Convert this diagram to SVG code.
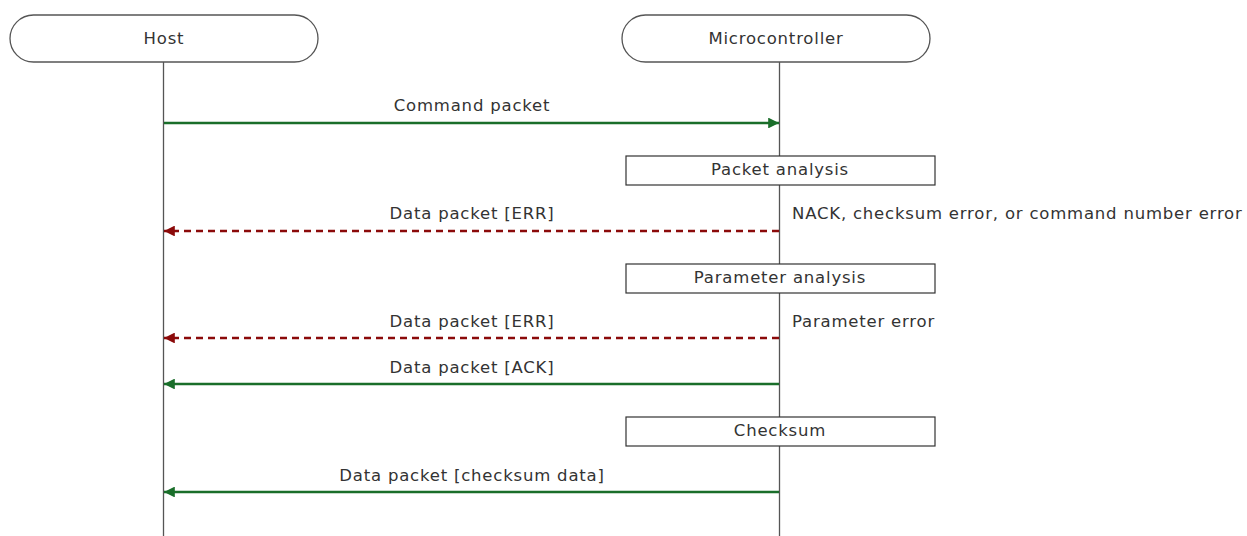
<svg xmlns="http://www.w3.org/2000/svg" width="1247" height="536" viewBox="0 0 1247 536">
<style>
text{font-family:"DejaVu Sans","Liberation Sans",sans-serif;font-size:16.5px;letter-spacing:0.8px;fill:#333}
.mid{text-anchor:middle}
.actor{fill:#fff;stroke:#555;stroke-width:1.3}
.box{fill:#fff;stroke:#333;stroke-width:1.2}
.life{stroke:#555;stroke-width:1.3}
.ok{stroke:#1a6e2a;stroke-width:2.4;fill:none}
.err{stroke:#8b0a0a;stroke-width:2.4;fill:none;stroke-dasharray:7,5}
</style>
<defs>
<marker id="ag" viewBox="0 0 10 10" refX="10" refY="5" markerWidth="4.5" markerHeight="4.5" orient="auto" markerUnits="strokeWidth"><path d="M0,0L10,5L0,10z" fill="#1a6e2a"/></marker>
<marker id="ar" viewBox="0 0 10 10" refX="10" refY="5" markerWidth="4.5" markerHeight="4.5" orient="auto" markerUnits="strokeWidth"><path d="M0,0L10,5L0,10z" fill="#8b0a0a"/></marker>
</defs>
<g id="lifelines">
<line class="life" x1="163.5" y1="62" x2="163.5" y2="536"/>
<line class="life" x1="779.5" y1="62" x2="779.5" y2="536"/>
</g>
<g id="host"><rect class="actor" x="10" y="15" width="308" height="47" rx="23.5"/><text class="mid" x="164" y="44">Host</text></g>
<g id="mcu"><rect class="actor" x="622" y="15" width="308" height="47" rx="23.5"/><text class="mid" x="776" y="44">Microcontroller</text></g>
<g id="packet-analysis"><rect class="box" x="626" y="156" width="309" height="29"/><text class="mid" x="780" y="175">Packet analysis</text></g>
<g id="parameter-analysis"><rect class="box" x="626" y="264" width="309" height="29"/><text class="mid" x="780" y="283">Parameter analysis</text></g>
<g id="checksum"><rect class="box" x="626" y="417" width="309" height="29"/><text class="mid" x="780" y="436">Checksum</text></g>
<g id="connectors">
<line class="ok" x1="164" y1="123" x2="779" y2="123" marker-end="url(#ag)"/>
<text class="mid" x="472" y="111">Command packet</text>
<line class="err" x1="779" y1="231" x2="164" y2="231" marker-end="url(#ar)"/>
<text class="mid" x="472" y="219">Data packet [ERR]</text>
<text x="792" y="219">NACK, checksum error, or command number error</text>
<line class="err" x1="779" y1="338" x2="164" y2="338" marker-end="url(#ar)"/>
<text class="mid" x="472" y="327">Data packet [ERR]</text>
<text x="792" y="327">Parameter error</text>
<line class="ok" x1="779" y1="384" x2="164" y2="384" marker-end="url(#ag)"/>
<text class="mid" x="472" y="373">Data packet [ACK]</text>
<line class="ok" x1="779" y1="492" x2="164" y2="492" marker-end="url(#ag)"/>
<text class="mid" x="472" y="481">Data packet [checksum data]</text>
</g>
</svg>
